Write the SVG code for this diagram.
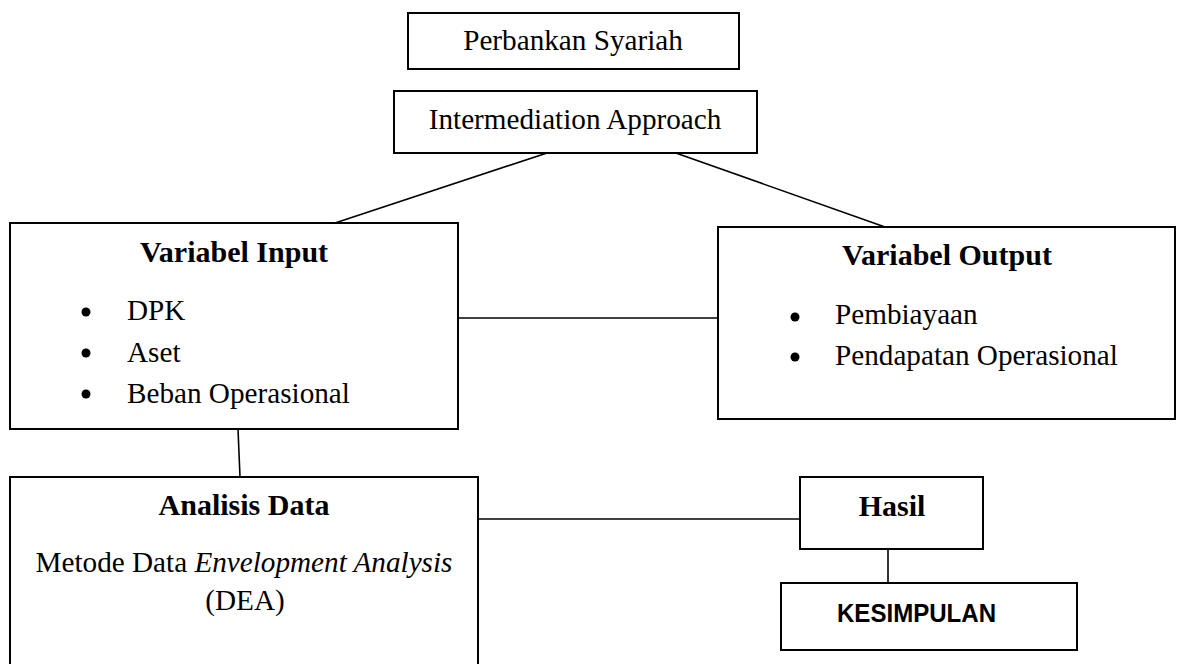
<svg xmlns="http://www.w3.org/2000/svg" width="1180" height="664" viewBox="0 0 1180 664">
<style>
.box{fill:#fff;stroke:#000;stroke-width:2}
.ln{stroke:#000;stroke-width:1.6;fill:none}
.t{font-family:"Liberation Serif","Times New Roman",serif;font-size:29.2px;fill:#000}
.b{font-weight:bold;font-size:30px}
.c{text-anchor:middle}
.s{font-family:"Liberation Sans",Arial,sans-serif;font-size:25.5px;font-weight:bold;fill:#000}
</style>
<rect width="1180" height="664" fill="#fff"/>
<g id="connectors">
<line class="ln" x1="547" y1="153" x2="335" y2="223"/>
<line class="ln" x1="673" y1="152" x2="885" y2="227"/>
<line class="ln" x1="458" y1="318" x2="718" y2="318"/>
<line class="ln" x1="238" y1="429" x2="240" y2="477"/>
<line class="ln" x1="478" y1="519" x2="800" y2="519"/>
<line class="ln" x1="888" y1="549" x2="888" y2="583"/>
</g>
<g id="perbankan">
<rect class="box" x="408" y="13" width="331" height="56"/>
<text class="t c" x="573" y="50">Perbankan Syariah</text>
</g>
<g id="intermediation">
<rect class="box" x="394" y="91" width="363" height="62"/>
<text class="t c" x="575" y="129">Intermediation Approach</text>
</g>
<g id="input">
<rect class="box" x="10" y="223" width="448" height="206"/>
<text class="t b c" x="234" y="262">Variabel Input</text>
<circle cx="86" cy="312" r="4.5"/>
<circle cx="86" cy="353" r="4.5"/>
<circle cx="86" cy="394" r="4.5"/>
<text class="t" x="127" y="320">DPK</text>
<text class="t" x="127" y="362">Aset</text>
<text class="t" x="127" y="403">Beban Operasional</text>
</g>
<g id="output">
<rect class="box" x="718" y="227" width="457" height="192"/>
<text class="t b c" x="947" y="265">Variabel Output</text>
<circle cx="795" cy="317" r="4.5"/>
<circle cx="795" cy="357" r="4.5"/>
<text class="t" x="835" y="324">Pembiayaan</text>
<text class="t" x="835" y="365">Pendapatan Operasional</text>
</g>
<g id="analisis">
<rect class="box" x="10" y="477" width="468" height="220"/>
<text class="t b c" x="244" y="515">Analisis Data</text>
<text class="t c" x="244" y="572">Metode Data <tspan font-style="italic">Envelopment Analysis</tspan></text>
<text class="t c" x="245" y="610">(DEA)</text>
</g>
<g id="hasil">
<rect class="box" x="800" y="477" width="183" height="72"/>
<text class="t b c" x="892" y="516">Hasil</text>
</g>
<g id="kesimpulan">
<rect class="box" x="781" y="583" width="296" height="67"/>
<text class="s" x="837" y="622" textLength="159" lengthAdjust="spacingAndGlyphs">KESIMPULAN</text>
</g>
</svg>
